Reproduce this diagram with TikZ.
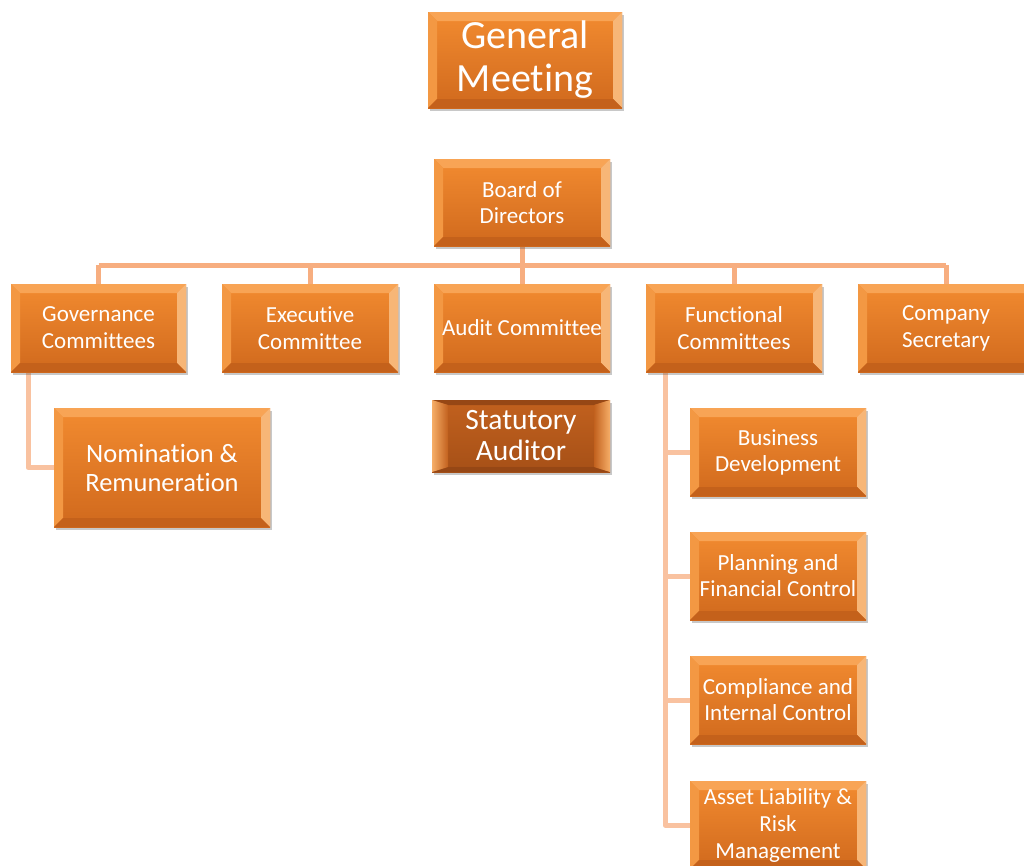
\documentclass[tikz,border=0pt]{standalone}
\usepackage{fontspec}
\setmainfont[Ligatures=NoCommon]{Carlito}
\usetikzlibrary{shadows}
\pgfdeclarelayer{bg}
\pgfsetlayers{bg,main}
\definecolor{faceT}{HTML}{F28B30}
\definecolor{faceB}{HTML}{D0691D}
\definecolor{bevT}{HTML}{F8A455}
\definecolor{bevL}{HTML}{F39843}
\definecolor{bevR}{HTML}{F7B677}
\definecolor{bevB}{HTML}{C4611B}
\definecolor{sfaceT}{HTML}{C2611E}
\definecolor{sfaceB}{HTML}{A65017}
\definecolor{sbevS}{HTML}{F6AE68}
\definecolor{sbevD}{HTML}{964715}
\definecolor{linkA}{HTML}{F7AE80}
\definecolor{linkB}{HTML}{F9C2A0}
\tikzset{
  obx/.style={draw=none, top color=faceT, bottom color=faceB, text=white,
    align=center, inner sep=0pt,
    drop shadow={shadow xshift=2pt, shadow yshift=-3pt, opacity=0.3, fill=black!70},
    path picture={
      \fill[bevT] (path picture bounding box.north west) -- (path picture bounding box.north east)
        -- ([xshift=-9pt,yshift=-9pt]path picture bounding box.north east)
        -- ([xshift=9pt,yshift=-9pt]path picture bounding box.north west) -- cycle;
      \fill[bevL] (path picture bounding box.north west) -- (path picture bounding box.south west)
        -- ([xshift=9pt,yshift=9pt]path picture bounding box.south west)
        -- ([xshift=9pt,yshift=-9pt]path picture bounding box.north west) -- cycle;
      \fill[bevR] (path picture bounding box.north east) -- (path picture bounding box.south east)
        -- ([xshift=-9pt,yshift=9pt]path picture bounding box.south east)
        -- ([xshift=-9pt,yshift=-9pt]path picture bounding box.north east) -- cycle;
      \fill[bevB] (path picture bounding box.south west) -- (path picture bounding box.south east)
        -- ([xshift=-9pt,yshift=9pt]path picture bounding box.south east)
        -- ([xshift=9pt,yshift=9pt]path picture bounding box.south west) -- cycle;
    }},
  sbx/.style={draw=none, top color=sfaceT, bottom color=sfaceB, text=white,
    align=center, inner sep=0pt,
    drop shadow={shadow xshift=2pt, shadow yshift=-3pt, opacity=0.3, fill=black!70},
    path picture={
      \fill[sbevD] (path picture bounding box.north west) -- (path picture bounding box.north east)
        -- ([xshift=-16pt,yshift=-5pt]path picture bounding box.north east)
        -- ([xshift=16pt,yshift=-5pt]path picture bounding box.north west) -- cycle;
      \fill[sbevD] (path picture bounding box.south west) -- (path picture bounding box.south east)
        -- ([xshift=-16pt,yshift=5pt]path picture bounding box.south east)
        -- ([xshift=16pt,yshift=5pt]path picture bounding box.south west) -- cycle;
      \shade[left color=sbevS, right color=sfaceT] (path picture bounding box.north west) -- (path picture bounding box.south west)
        -- ([xshift=16pt,yshift=5pt]path picture bounding box.south west)
        -- ([xshift=16pt,yshift=-5pt]path picture bounding box.north west) -- cycle;
      \shade[right color=sbevS, left color=sfaceT] (path picture bounding box.north east) -- (path picture bounding box.south east)
        -- ([xshift=-16pt,yshift=5pt]path picture bounding box.south east)
        -- ([xshift=-16pt,yshift=-5pt]path picture bounding box.north east) -- cycle;
    }},
  linkmain/.style={draw=linkA, line width=5pt, line join=round},
  linksub/.style={draw=linkB, line width=5pt, line join=round},
}
\newcommand\obox[8]{%
  \node[obx, minimum width=#4pt, minimum height=#5pt, font=\fontsize{#6}{#7}\selectfont] (#1) at (#2,-#3) {#8};}
\begin{document}
\begin{tikzpicture}[x=1pt,y=1pt]
\useasboundingbox (0,0) rectangle (1024,-865);
\begin{pgfonlayer}{bg}
\fill[white] (0,0) rectangle (1024,-865);
\end{pgfonlayer}
\coordinate (bus) at (522,-265);
\coordinate (gx) at (28,-372);
\coordinate (fx) at (665,-372);
\obox{gm}{525}{60}{194}{96}{40}{43}{General\\Meeting}
\obox{board}{522}{202.5}{176}{87}{23}{26}{Board of\\Directors}
\obox{gov}{98.5}{328}{175}{88}{23}{27}{Governance\\Committees}
\obox{exec}{310}{328}{176}{88}{23}{27}{Executive\\Committee}
\obox{audit}{522}{328}{176}{88}{23}{27}{Audit Committee}
\obox{func}{734}{328}{176}{88}{23}{27}{Functional\\Committees}
\obox{cs}{946}{328}{176}{88}{23}{27}{Company\\Secretary}
\obox{nom}{162}{467.5}{216}{119}{26.5}{29}{Nomination \&\\Remuneration}
\node[sbx, minimum width=178pt, minimum height=72pt, font=\fontsize{29.5}{31}\selectfont] (stat) at (521,-436) {Statutory\\Auditor};
\obox{bd}{778}{452}{176}{88}{23}{26}{Business\\Development}
\obox{pfc}{778}{576}{176}{88}{23}{26}{Planning and\\Financial Control}
\obox{cic}{778}{700}{176}{88}{23}{26}{Compliance and\\Internal Control}
\obox{alr}{778}{825}{176}{88}{23}{27}{Asset Liability \&\\Risk\\Management}
\begin{pgfonlayer}{bg}
\path[linkmain] (board.south) -- (board.south |- bus);
\path[linkmain] (gov.north |- bus) -- (cs.north |- bus);
\foreach \n in {gov,exec,audit,func,cs}{\path[linkmain] (\n.north |- bus) -- (\n.north);}
\path[linksub] (gx) |- (nom.west);
\path[linksub] (fx) |- (alr.west);
\foreach \n in {bd,pfc,cic}{\path[linksub] (fx |- \n.west) -- (\n.west);}
\end{pgfonlayer}
\end{tikzpicture}
\end{document}
